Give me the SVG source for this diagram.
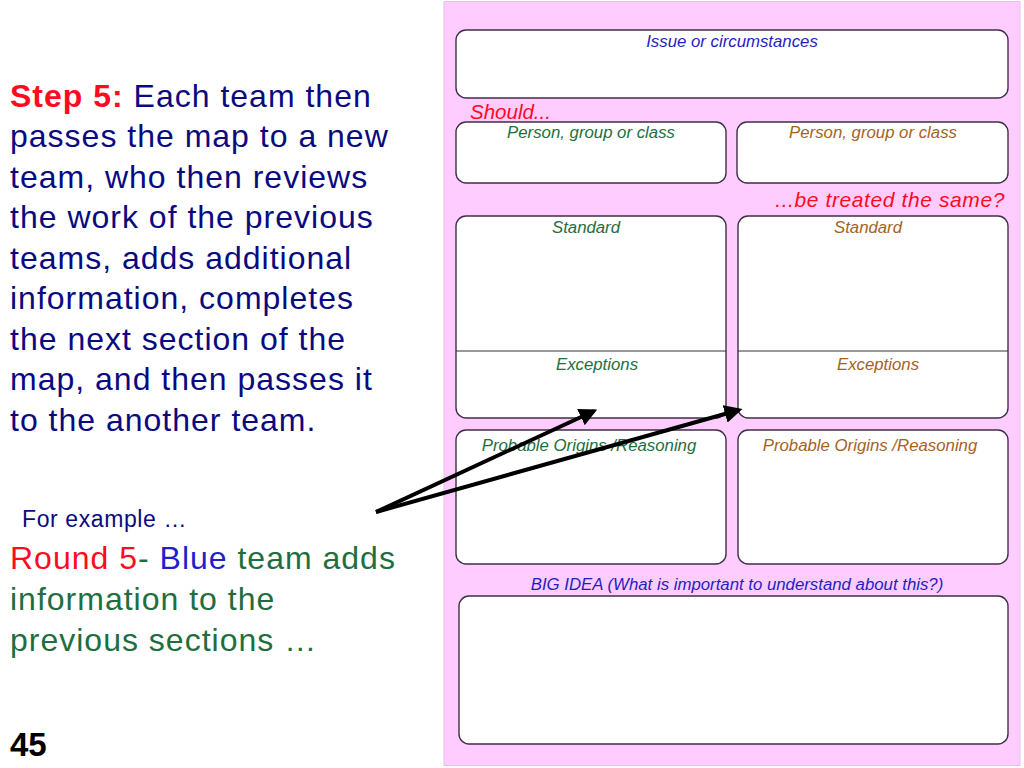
<svg xmlns="http://www.w3.org/2000/svg" width="1024" height="768" viewBox="0 0 1024 768">
<style>
.box{fill:#ffffff;stroke:#3d2f45;stroke-width:1.4}
.lbl{font-family:"Liberation Sans",Arial,sans-serif;font-style:italic;font-size:16.8px;text-anchor:middle}
.blue{fill:#1f1fbf}
.green{fill:#1e6e40}
.brown{fill:#a5621f}
.red{fill:#ff0a1e}
.main{font-family:"Liberation Sans",Arial,sans-serif;font-size:32px;letter-spacing:1px;fill:#0a0a80}
.sub{font-family:"Liberation Sans",Arial,sans-serif;font-size:32px;letter-spacing:1px;fill:#1e6e40}
.conn{stroke:#000;stroke-width:4;fill:none;marker-end:url(#ah)}
</style>
<defs>
<marker id="ah" viewBox="0 0 10 10" refX="8" refY="5" markerWidth="4.5" markerHeight="4.5" orient="auto" markerUnits="strokeWidth">
<path d="M0,0 L10,5 L0,10 z" fill="#000"/>
</marker>
</defs>
<rect width="1024" height="768" fill="#ffffff"/>
<g id="left-text">
<text class="main" x="10" y="107"><tspan font-weight="bold" fill="#ff0a1e">Step 5:</tspan> Each team then</text>
<text class="main" x="10" y="147">passes the map to a new</text>
<text class="main" x="10" y="188">team, who then reviews</text>
<text class="main" x="10" y="228">the work of the previous</text>
<text class="main" x="10" y="269">teams, adds additional</text>
<text class="main" x="10" y="309">information, completes</text>
<text class="main" x="10" y="350">the next section of the</text>
<text class="main" x="10" y="390">map, and then passes it</text>
<text class="main" x="10" y="431">to the another team.</text>
<text x="22" y="527" font-family="Liberation Sans,Arial,sans-serif" font-size="23" letter-spacing="0.6" fill="#0a0a80">For example …</text>
<text class="sub" x="10" y="569"><tspan fill="#ff0a1e">Round 5</tspan>- <tspan fill="#1f1fcc">Blue</tspan> team adds</text>
<text class="sub" x="10" y="610">information to the</text>
<text class="sub" x="10" y="651">previous sections …</text>
<text x="10" y="756" font-family="Liberation Sans,Arial,sans-serif" font-size="33" font-weight="bold" fill="#000">45</text>
</g>
<rect id="panel" x="444" y="1.5" width="576" height="764" fill="#ffccff" stroke="#e6c0e6" stroke-width="1"/>
<g id="issue">
<rect class="box" x="456" y="30" width="552" height="68" rx="10"/>
<text class="lbl blue" x="732" y="47">Issue or circumstances</text>
</g>
<text class="red" x="470" y="119" font-family="Liberation Sans,Arial,sans-serif" font-style="italic" font-size="20.5">Should...</text>
<g id="person-left">
<rect class="box" x="456" y="122" width="270" height="61" rx="10"/>
<text class="lbl green" x="591" y="138">Person, group or class</text>
</g>
<g id="person-right">
<rect class="box" x="737" y="122" width="271" height="61" rx="10"/>
<text class="lbl brown" x="873" y="138">Person, group or class</text>
</g>
<text class="red" x="1005" y="207" font-family="Liberation Sans,Arial,sans-serif" font-style="italic" font-size="21" letter-spacing="0.6" text-anchor="end">...be treated the same?</text>
<g id="standard-left">
<rect class="box" x="456" y="216" width="270" height="202" rx="10"/>
<line x1="456" y1="351" x2="726" y2="351" stroke="#3d2f45" stroke-width="1.2"/>
<text class="lbl green" x="586" y="233">Standard</text>
<text class="lbl green" x="597" y="370">Exceptions</text>
</g>
<g id="standard-right">
<rect class="box" x="738" y="216" width="270" height="202" rx="10"/>
<line x1="738" y1="351" x2="1008" y2="351" stroke="#3d2f45" stroke-width="1.2"/>
<text class="lbl brown" x="868" y="233">Standard</text>
<text class="lbl brown" x="878" y="370">Exceptions</text>
</g>
<g id="origins-left">
<rect class="box" x="456" y="430" width="270" height="134" rx="10"/>
<text class="lbl green" x="589" y="451">Probable Origins /Reasoning</text>
</g>
<g id="origins-right">
<rect class="box" x="738" y="430" width="270" height="134" rx="10"/>
<text class="lbl brown" x="870" y="451">Probable Origins /Reasoning</text>
</g>
<text class="lbl blue" x="737" y="590">BIG IDEA (What is important to understand about this?)</text>
<g id="big-idea">
<rect class="box" x="459" y="596" width="549" height="148" rx="10"/>
</g>
<g id="connectors">
<line class="conn" x1="376" y1="512" x2="594" y2="411"/>
<line class="conn" x1="376" y1="512" x2="739" y2="410"/>
</g>
</svg>
